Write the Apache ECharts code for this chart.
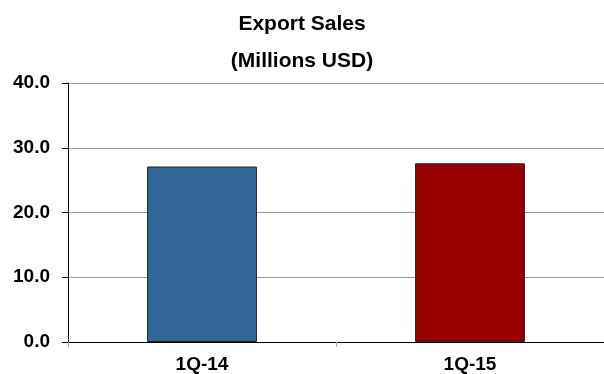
<!DOCTYPE html>
<html><head><meta charset="utf-8">
<script src="https://cdn.jsdelivr.net/npm/echarts@6/dist/echarts.min.js"></script>
<style>html,body{margin:0;padding:0;background:#fff}#c{width:604px;height:374px}</style>
</head><body><div id="c"></div>
<script>
const categories = ['1Q-14', '1Q-15'];
const values = [27.1, 27.6];
const barColors = ['#336699', '#990000'];
const yTicks = [0, 10, 20, 30, 40];

const chart = echarts.init(document.getElementById('c'), null, {renderer: 'canvas'});
const font = 'Liberation Sans, Arial, sans-serif';
chart.setOption({
  animation: false,
  title: [
    {text: 'Export Sales', left: 'center', top: 9, textStyle: {fontFamily: font, fontWeight: 'bold', fontSize: 21, color: '#000'}},
    {text: '(Millions USD)', left: 'center', top: 46, textStyle: {fontFamily: font, fontWeight: 'bold', fontSize: 21, color: '#000'}}
  ],
  grid: {left: 68, right: -5, top: 83, bottom: 31, containLabel: false},
  xAxis: {
    type: 'category', data: categories,
    axisLine: {lineStyle: {color: '#000', width: 1}},
    axisTick: {show: true, alignWithLabel: false, length: 5, lineStyle: {color: '#aaa'}},
    axisLabel: {fontFamily: font, fontWeight: 'bold', fontSize: 19, color: '#000', margin: 13}
  },
  yAxis: {
    type: 'value', min: yTicks[0], max: yTicks[yTicks.length - 1], interval: 10,
    axisLine: {show: true, lineStyle: {color: '#000', width: 1}},
    axisTick: {show: true, length: 6, lineStyle: {color: '#000'}},
    axisLabel: {fontFamily: font, fontWeight: 'bold', fontSize: 19, color: '#000', margin: 18,
      formatter: v => v.toFixed(1)},
    splitLine: {show: true, lineStyle: {color: '#999', width: 1}}
  },
  series: [{
    type: 'bar', barWidth: '41%',
    data: values.map((v, i) => ({value: v, itemStyle: {color: barColors[i], borderColor: '#222', borderWidth: 1}}))
  }]
});
</script></body></html>
